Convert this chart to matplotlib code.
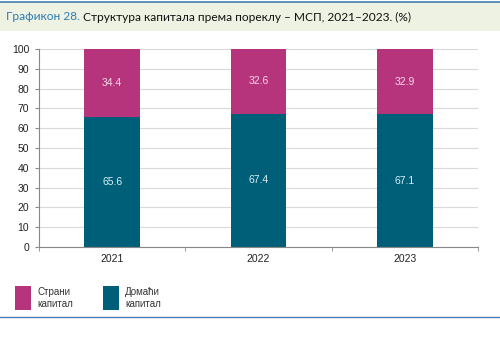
import matplotlib
matplotlib.use('Agg')
import matplotlib.pyplot as plt
from matplotlib.patches import Rectangle
import numpy as np

years = ['2021', '2022', '2023']
domestic = [65.6, 67.4, 67.1]
foreign = [34.4, 32.6, 32.9]
legend_labels = ['Страни\nкапитал', 'Домаћи\nкапитал']

c_foreign = '#b5347c'
c_domestic = '#005f78'

plt.rcParams['font.family'] = ['Liberation Sans', 'DejaVu Sans']

fig = plt.figure(figsize=(5.0, 3.42), dpi=100)
W, H = 500, 342

# title band
fig.patches.append(Rectangle((0, 1 - 31/H), 1, 29/H, transform=fig.transFigure,
                             facecolor='#eef2e3', edgecolor='none', zorder=0))
fig.add_artist(plt.Line2D([0, 1], [1 - 1.5/H, 1 - 1.5/H], color='#3f7fb5', lw=1.2))
fig.text(6/W, 1 - 17/H, 'Графикон 28.', color='#2e7bb0', fontsize=8.6,
         family=['Lato', 'DejaVu Sans'], va='center')
fig.text(83/W, 1 - 17/H, 'Структура капитала према пореклу – МСП, 2021–2023. (%)',
         color='#111111', fontsize=8.6, family=['Lato', 'DejaVu Sans'], va='center')
fig.add_artist(plt.Line2D([0, 1], [1 - 316.5/H, 1 - 316.5/H], color='#4a7fb5', lw=1.0))

ax = fig.add_axes([39/W, 1 - 247/H, 439/W, 198/H])
x = np.arange(len(years))
bw = 0.38
ax.bar(x, domestic, bw, color=c_domestic, zorder=2)
ax.bar(x, foreign, bw, bottom=domestic, color=c_foreign, zorder=2)
for i in range(len(years)):
    ax.text(x[i], domestic[i] / 2, f'{domestic[i]:.1f}', ha='center', va='center',
            color='#d8f0f8', fontsize=7.5)
    ax.text(x[i], domestic[i] + foreign[i] / 2, f'{foreign[i]:.1f}', ha='center',
            va='center', color='#f8d8ea', fontsize=7.5)

ax.set_xlim(-0.5, 2.5)
ax.set_ylim(0, 100)
ax.set_yticks(range(0, 101, 10))
ax.yaxis.grid(True, color='#d9d9d9', lw=0.8, zorder=0)
ax.set_xticks(x)
ax.set_xticklabels(years)
ax.set_xticks([-0.5, 0.5, 1.5, 2.5], minor=True)
ax.tick_params(axis='x', which='major', length=0, labelsize=7.5, pad=5, colors='#222222')
ax.tick_params(axis='x', which='minor', length=3, color='#888888')
ax.tick_params(axis='y', length=3, color='#888888', labelsize=7.5, labelcolor='#222222', pad=4)
for s in ['top', 'right']:
    ax.spines[s].set_visible(False)
for s in ['left', 'bottom']:
    ax.spines[s].set_color('#888888')
    ax.spines[s].set_linewidth(0.8)

# legend
leg_items = [(15, c_foreign, legend_labels[0]), (103, c_domestic, legend_labels[1])]
for lx, col, lab in leg_items:
    fig.patches.append(Rectangle((lx/W, 1 - 310/H), 16/W, 24/H, transform=fig.transFigure,
                                 facecolor=col, edgecolor='none'))
    fig.text((lx + 22)/W, 1 - 298/H, lab, fontsize=7, color='#333333', va='center',
             linespacing=1.3)

fig.savefig('out.png', dpi=100, facecolor='white')
